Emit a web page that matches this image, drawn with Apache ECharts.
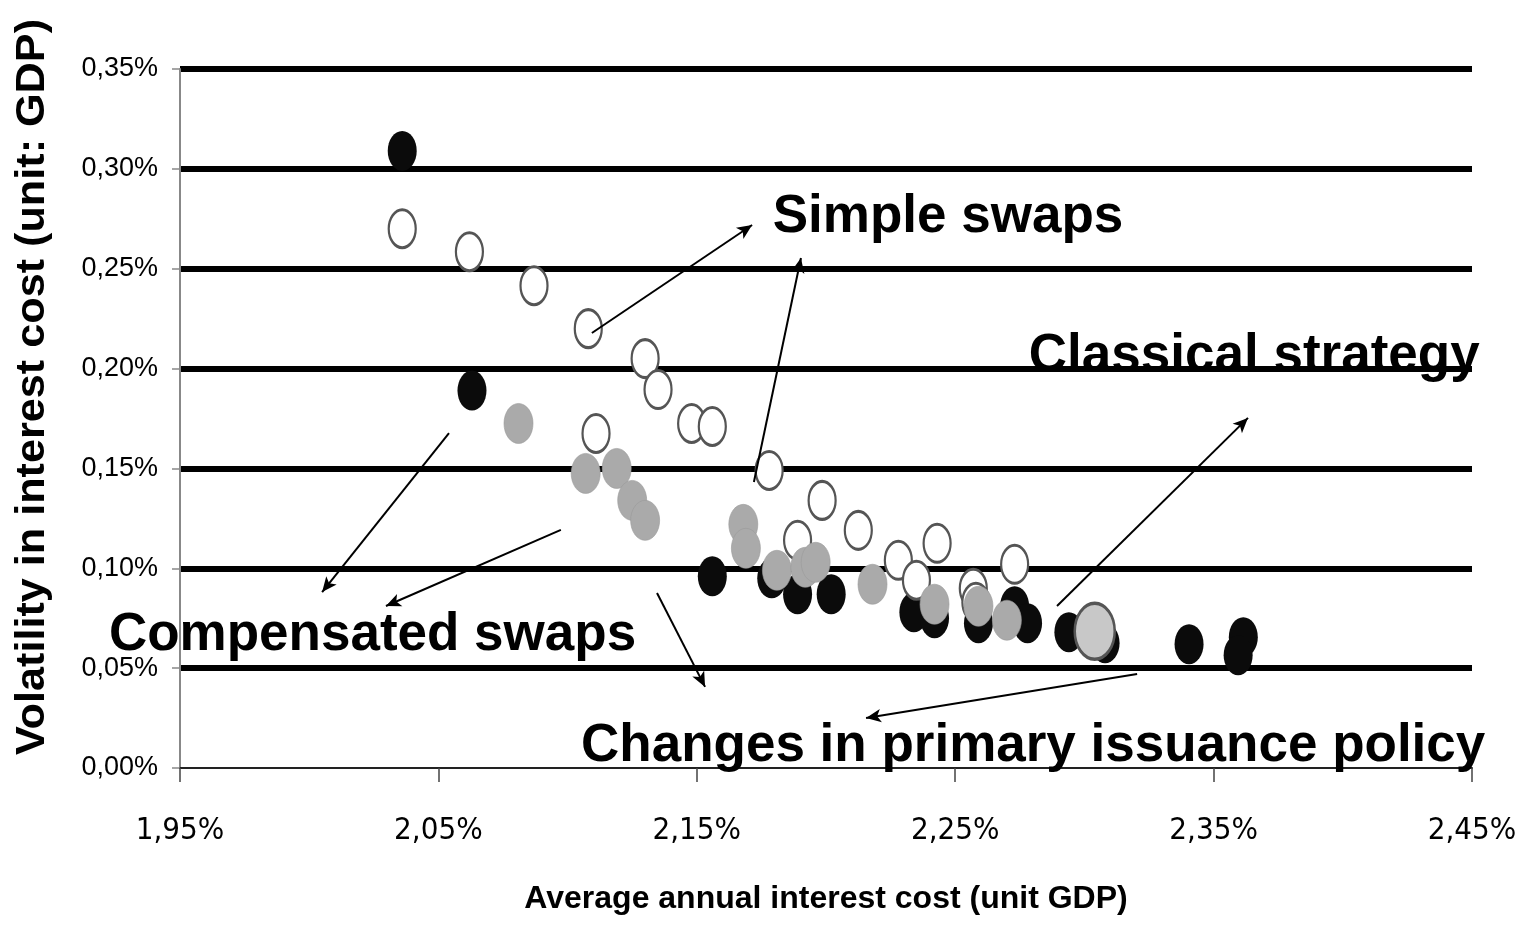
<!DOCTYPE html>
<html>
<head>
<meta charset="utf-8">
<script src="https://cdn.jsdelivr.net/npm/echarts@6/dist/echarts.min.js"></script>
<style>
  html, body { margin: 0; padding: 0; background: #fff; overflow: hidden; }
  #chart { width: 1519px; height: 926px; }
</style>
</head>
<body>
<div id="chart"></div>
<script>
// Average annual interest cost vs. its volatility (both in % of GDP), per debt strategy.

// Changes in primary issuance policy (black)
const issuancePolicy = [
  [2.036, 0.309], [2.063, 0.189], [2.156, 0.096], [2.179, 0.095], [2.189, 0.087],
  [2.202, 0.087], [2.234, 0.078], [2.242, 0.075], [2.259, 0.0725], [2.273, 0.081],
  [2.278, 0.0725], [2.294, 0.068], [2.308, 0.0625], [2.3405, 0.062], [2.3615, 0.0655],
  [2.3595, 0.0565]
];

// Simple swaps (hollow)
const simpleSwaps = [
  [2.036, 0.270], [2.062, 0.2585], [2.087, 0.2415], [2.108, 0.220], [2.130, 0.205],
  [2.135, 0.1895], [2.111, 0.1675], [2.148, 0.1725], [2.156, 0.171], [2.178, 0.149],
  [2.1985, 0.134], [2.189, 0.114], [2.2125, 0.119], [2.228, 0.104], [2.243, 0.1125],
  [2.235, 0.094], [2.257, 0.090], [2.258, 0.083], [2.273, 0.102]
];

// Compensated swaps (grey)
const compensatedSwaps = [
  [2.081, 0.1725], [2.107, 0.1475], [2.119, 0.150], [2.125, 0.134], [2.130, 0.124],
  [2.168, 0.122], [2.169, 0.110], [2.181, 0.099], [2.192, 0.1005], [2.196, 0.103],
  [2.218, 0.092], [2.242, 0.082], [2.259, 0.081], [2.270, 0.074]
];

// Classical strategy (single large point)
const classicalStrategy = [[2.304, 0.0685]];

const xTickValues = [1.95, 2.05, 2.15, 2.25, 2.35, 2.45];

// Annotation captions: text and anchor (left edge, middle of capitals) in data units
const captionTexts = ['Simple swaps', 'Classical strategy', 'Compensated swaps', 'Changes in primary issuance policy'];
const captionAnchors = [[2.1794, 0.2759], [2.2785, 0.2060], [1.9225, 0.0666], [2.1052, 0.0110]];

// Arrows: [from, to] in data units
const arrows = [
  [[2.1094, 0.2178], [2.1714, 0.2719]],
  [[2.1721, 0.1432], [2.1903, 0.2554]],
  [[2.2894, 0.0811], [2.3633, 0.1753]],
  [[2.0541, 0.1677], [2.0050, 0.0881]],
  [[2.0974, 0.1192], [2.0297, 0.0811]],
  [[2.1346, 0.0876], [2.1532, 0.0406]],
  [[2.3204, 0.0471], [2.2155, 0.0250]]
];

const pct = v => v.toFixed(2).replace('.', ',') + '%';
const NARROW = '"DejaVu Sans Condensed", "Liberation Sans", sans-serif';
const SANS = '"Liberation Sans", Arial, sans-serif';
const DOT = [29, 40];

const chart = echarts.init(document.getElementById('chart'), null, { renderer: 'canvas' });

chart.setOption({
  animation: false,
  backgroundColor: '#fff',
  grid: { left: 180, right: 47, top: 69, bottom: 158, containLabel: false, outerBoundsMode: 'none' },
  xAxis: {
    type: 'value',
    min: 1.95,
    max: 2.45,
    name: 'Average annual interest cost (unit GDP)',
    nameLocation: 'middle',
    nameGap: 115,
    nameTextStyle: { fontFamily: SANS, fontWeight: 'bold', fontSize: 32, color: '#000' },
    axisLine: { show: true, lineStyle: { color: '#222', width: 2 } },
    axisTick: { show: true, customValues: xTickValues, length: 14, lineStyle: { color: '#444', width: 1.5 } },
    axisLabel: {
      customValues: xTickValues,
      formatter: pct,
      margin: 47,
      fontFamily: NARROW,
      fontSize: 31,
      color: '#000'
    },
    splitLine: { show: false }
  },
  yAxis: {
    type: 'value',
    min: 0,
    max: 0.35,
    interval: 0.05,
    axisLine: { show: true, lineStyle: { color: '#888', width: 2 } },
    axisTick: { show: true, length: 8, lineStyle: { color: '#888', width: 1.5 } },
    axisLabel: { formatter: pct, margin: 22, fontFamily: SANS, fontSize: 27, color: '#000' },
    splitLine: { show: true, showMinLine: false, lineStyle: { color: '#000', width: 6 } }
  },
  series: [
    {
      name: 'Changes in primary issuance policy',
      type: 'scatter',
      symbol: 'circle',
      symbolSize: DOT,
      data: issuancePolicy,
      itemStyle: { color: '#0b0b0b', opacity: 1 }
    },
    {
      name: 'Simple swaps',
      type: 'scatter',
      symbol: 'circle',
      symbolSize: [27, 38],
      data: simpleSwaps,
      itemStyle: { color: '#fff', borderColor: '#555', borderWidth: 2.6, opacity: 1 }
    },
    {
      name: 'Compensated swaps',
      type: 'scatter',
      symbol: 'circle',
      symbolSize: DOT,
      data: compensatedSwaps,
      itemStyle: { color: '#aaaaaa', borderColor: '#9a9a9a', borderWidth: 0.6, opacity: 1 }
    },
    {
      name: 'Classical strategy',
      type: 'scatter',
      symbol: 'circle',
      symbolSize: [40, 56],
      data: classicalStrategy,
      itemStyle: { color: '#c8c8c8', borderColor: '#555', borderWidth: 3, opacity: 1 },
      markLine: {
        silent: true,
        symbol: ['none', 'arrow'],
        symbolSize: [10, 15],
        label: { show: false },
        lineStyle: { color: '#000', width: 2, type: 'solid' },
        emphasis: { disabled: true },
        data: arrows.map(([from, to]) => [{ coord: from }, { coord: to }])
      }
    }
  ]
});

// Captions and the vertical axis title
const captions = captionTexts.map((text, i) => {
  const p = chart.convertToPixel({ gridIndex: 0 }, captionAnchors[i]);
  return {
    type: 'text',
    x: p[0],
    y: p[1],
    z: 100,
    style: {
      text: text,
      font: 'bold 53px ' + SANS,
      fill: '#000',
      align: 'left',
      verticalAlign: 'middle'
    }
  };
});

captions.push({
  type: 'text',
  x: 33,
  y: 387,
  rotation: Math.PI / 2,
  scaleX: 1.08,
  z: 100,
  style: {
    text: 'Volatility in interest cost (unit: GDP)',
    font: 'bold 40px ' + SANS,
    fill: '#000',
    align: 'center',
    verticalAlign: 'middle'
  }
});

chart.setOption({ graphic: captions });
</script>
</body>
</html>
